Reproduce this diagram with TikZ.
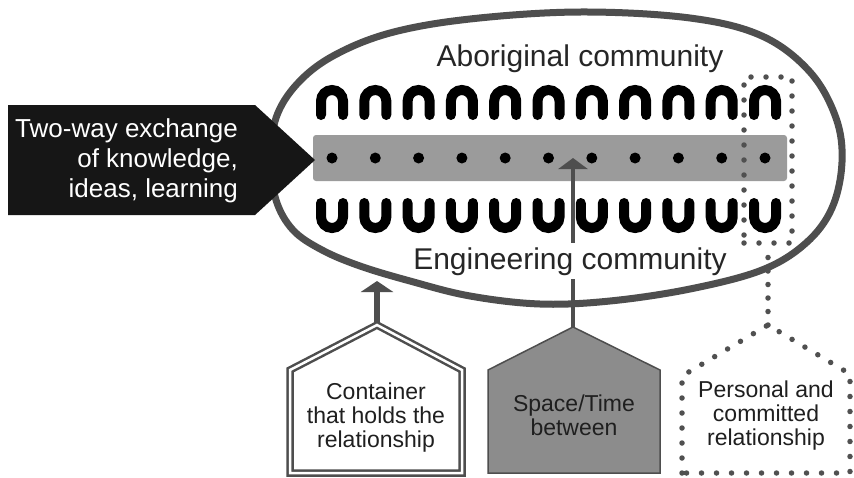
\documentclass[tikz,border=0pt]{standalone}
\usepackage{fontspec}
\setmainfont{Liberation Sans}
\usetikzlibrary{arrows.meta}
\definecolor{inkgray}{RGB}{78,78,78}
\definecolor{bandgray}{RGB}{155,155,155}
\definecolor{boxgray}{RGB}{140,140,140}
\definecolor{nearblack}{RGB}{22,22,22}
\definecolor{dotgray}{RGB}{80,80,80}
\begin{document}
\begin{tikzpicture}[x=1pt,y=-1pt,
  lbl/.style={font=\fontsize{30}{36}\selectfont, text=black!85, inner sep=0pt},
  boxtext/.style={font=\fontsize{23}{24}\selectfont, align=center, inner sep=0pt, text=black!88},
  bow/.style={draw=black, line width=10pt, line cap=round},
  band/.style={fill=bandgray, rounded corners=3pt, minimum width=474pt, minimum height=46pt, inner sep=0pt},
  dotrun/.style={draw=dotgray, line width=5.5pt, line cap=round, dash pattern=on 0pt off 15pt},
  outline/.style={draw=inkgray, line width=7pt},
  thinarrow/.style={draw=inkgray, line width=4.5pt, -{Triangle[width=29pt,length=11pt]}},
  thickarrow/.style={draw=inkgray, line width=6.5pt, -{Triangle[width=32pt,length=11pt]}},
]
\useasboundingbox (0,0) rectangle (854,477);
\fill[white] (0,0) rectangle (854,477);

% shared space between the two communities
\node[band] (band) at (550,158) {};

% people of each community, with the meeting points between them
\foreach \i in {0,...,10} {
  \pgfmathsetmacro\cx{332+43.3*\i}
  \fill[black] (\cx,158) circle[radius=5.5pt];
  \draw[bow] (\cx-11,115) -- (\cx-11,101) arc[start angle=180,end angle=0,radius=11pt] -- (\cx+11,115);
  \draw[bow] (\cx-11,203) -- (\cx-11,217) arc[start angle=180,end angle=360,radius=11pt] -- (\cx+11,203);
}

% one personal pairing, picked out
\node[dotrun, minimum width=48pt, minimum height=166pt, inner sep=0pt] (column) at (768,160) {};

% arrow into the shared space
\coordinate (stTip) at (573,158);
\coordinate (stApex) at (573,327);
\draw[thinarrow] (stApex) -- (stTip);

\node[lbl, anchor=base, fill=white, inner sep=4pt] (engin) at (570,269) {Engineering community};
\node[lbl, anchor=base] (aborig) at (580,66) {Aboriginal community};

% the container round the relationship
\draw[outline] plot[smooth cycle, tension=0.6] coordinates {
  (271,160) (276,118) (297,84) (333,56) (390,33) (470,19) (580,12) (690,18)
  (762,36) (810,72) (836,118) (842,162) (832,208) (806,243) (762,270) (690,289)
  (610,301) (540,304) (470,296) (410,281) (360,266) (322,250) (293,230) (276,200)};

% exchange arrow on the left
\fill[nearblack] (8,105) -- (255,105) -- (315,160) -- (255,215) -- (8,215) -- cycle;
\node[font=\fontsize{26}{30}\selectfont, text=white, align=right, anchor=east, inner sep=0pt] (exchange) at (238,161)
  {Two-way exchange\\of knowledge,\\ideas, learning};

% container box
\coordinate (ctApex) at (377,325);
\coordinate (ctTip) at (377,281);
\draw[thickarrow] (ctApex) -- (ctTip);
\draw[draw=inkgray, double=white, double distance=2.5pt, line width=2.5pt]
  (290,473) -- (290,370) -- (ctApex) -- (462,370) -- (462,473) -- cycle;
\node[boxtext] (container) at (376,418) {Container\\that holds the\\relationship};

% space/time box
\filldraw[fill=boxgray, draw=inkgray, line width=1.5pt]
  (488,473) -- (488,370) -- (stApex) -- (660,370) -- (660,473) -- cycle;
\node[boxtext] (spacetime) at (574,415) {Space/Time\\between};

% personal relationship box
\coordinate (pcApex) at (768,325);
\draw[dotrun, dash pattern=on 0pt off 13.5pt] (pcApex) -- (column.south);
\draw[dotrun] (682,473) -- (682,376) -- (pcApex) -- (850,374) -- (850,473) -- cycle;
\node[boxtext] (personal) at (766,416) {Personal and\\committed\\relationship};
\end{tikzpicture}
\end{document}
